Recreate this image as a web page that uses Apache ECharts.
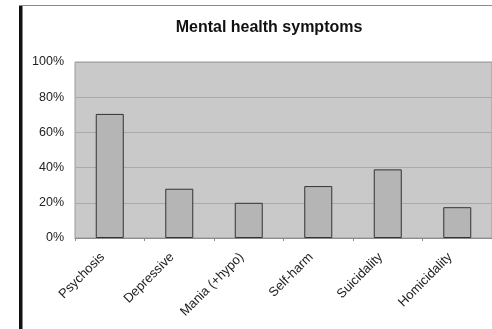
<!DOCTYPE html>
<html>
<head>
<meta charset="utf-8">
<script src="https://cdn.jsdelivr.net/npm/echarts@6/dist/echarts.min.js"></script>
<style>
  html, body { margin: 0; padding: 0; background: #fff; }
  #chart { width: 492px; height: 329px; }
</style>
</head>
<body>
<div id="chart"></div>
<script>
// Share of patients presenting each mental health symptom
const categories = ['Psychosis', 'Depressive', 'Mania (+hypo)', 'Self-harm', 'Suicidality', 'Homicidality'];
const shares = [70.5, 28, 20, 29.5, 39, 17.5];
const yTicks = [0, 20, 40, 60, 80, 100];

const chart = echarts.init(document.getElementById('chart'), null, { renderer: 'canvas' });
const font = 'Liberation Sans, Arial, sans-serif';

chart.setOption({
  backgroundColor: '#ffffff',
  animation: false,
  title: {
    text: 'Mental health symptoms',
    left: 264,
    textAlign: 'center',
    top: 15,
    textStyle: { fontFamily: font, fontSize: 16, fontWeight: 'bold', color: '#111' }
  },
  graphic: [
    { type: 'rect', shape: { x: 19, y: 5, width: 3.5, height: 324 }, style: { fill: '#111' } },
    { type: 'line', shape: { x1: 19, y1: 5.5, x2: 492, y2: 5.5 }, style: { stroke: '#8a8a8a', lineWidth: 1 } }
  ],
  grid: {
    left: 75,
    top: 62,
    width: 424,
    height: 176,
    show: true,
    backgroundColor: '#c9c9c9',
    borderColor: '#9a9a9a',
    borderWidth: 1
  },
  xAxis: {
    type: 'category',
    data: categories,
    axisLine: { show: true, lineStyle: { color: '#8c8c8c' } },
    axisTick: { show: true, length: 3, lineStyle: { color: '#8c8c8c' } },
    axisLabel: {
      rotate: 45, margin: 10, padding: [0, 10, 0, 0],
      fontFamily: font, fontSize: 13, color: '#222', interval: 0
    }
  },
  yAxis: {
    type: 'value',
    min: yTicks[0],
    max: yTicks[yTicks.length - 1],
    interval: 20,
    axisLine: { show: false },
    axisTick: { show: false },
    splitLine: { show: true, lineStyle: { color: '#a9a9a9', width: 1 } },
    axisLabel: { formatter: '{value}%', margin: 11, fontFamily: font, fontSize: 12.5, color: '#222' }
  },
  series: [{
    type: 'bar',
    data: shares,
    barWidth: 28,
    itemStyle: { color: '#b5b5b5', borderColor: '#333', borderWidth: 1 }
  }]
});
</script>
</body>
</html>
